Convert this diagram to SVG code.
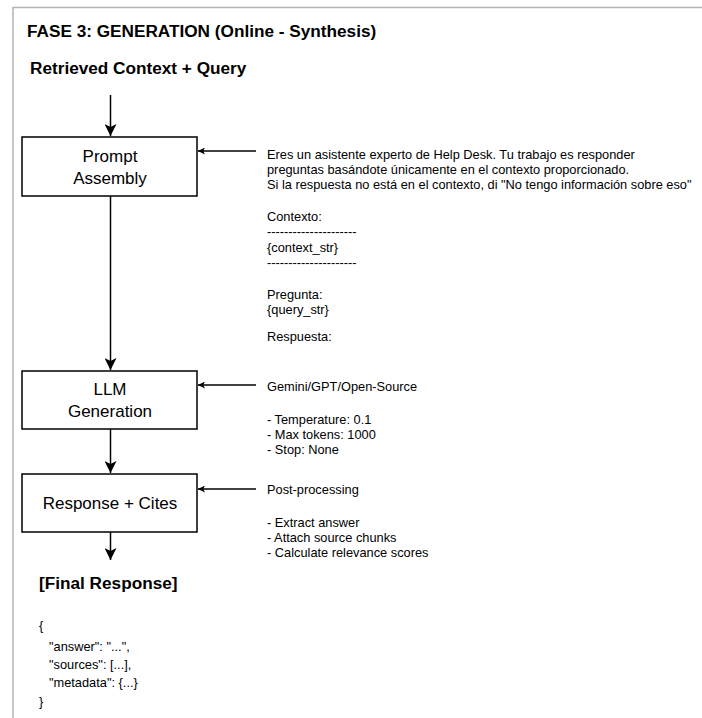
<svg xmlns="http://www.w3.org/2000/svg" width="702" height="718" viewBox="0 0 702 718">
<defs>
<marker id="big" viewBox="0 0 12 12" refX="12" refY="6" markerWidth="12" markerHeight="12" markerUnits="userSpaceOnUse" orient="auto">
<path d="M0,0 L12,6 L0,12 L3,6 Z" fill="#000"/>
</marker>
<marker id="small" viewBox="0 0 8 8" refX="8" refY="4" markerWidth="7" markerHeight="7" markerUnits="userSpaceOnUse" orient="auto">
<path d="M0,0 L8,4 L0,8 L2,4 Z" fill="#000"/>
</marker>
</defs>
<style>
text{font-family:"Liberation Sans",Arial,sans-serif;fill:#000}
.h{font-size:17.2px;font-weight:bold}
.n{font-size:17px;text-anchor:middle}
.t{font-size:12.8px}
.box{fill:#fff;stroke:#000;stroke-width:1.5}
.c{stroke:#000;stroke-width:1.5;fill:none}
</style>
<rect width="702" height="718" fill="#fff"/>
<path d="M13,718 V7.5 H702" fill="none" stroke="#b3b3b3" stroke-width="1.5"/>
<text class="h" x="27" y="37">FASE 3: GENERATION (Online - Synthesis)</text>
<text class="h" x="30" y="74">Retrieved Context + Query</text>

<g id="connectors">
<line class="c" x1="110.5" y1="95" x2="110.5" y2="136" marker-end="url(#big)"/>
<line class="c" x1="110.5" y1="196" x2="110.5" y2="370" marker-end="url(#big)"/>
<line class="c" x1="110.5" y1="429" x2="110.5" y2="473" marker-end="url(#big)"/>
<line class="c" x1="110.5" y1="532" x2="110.5" y2="560" marker-end="url(#big)"/>
<line class="c" x1="256" y1="151" x2="198" y2="151" marker-end="url(#small)"/>
<line class="c" x1="256" y1="385" x2="198" y2="385" marker-end="url(#small)"/>
<line class="c" x1="256" y1="489" x2="198" y2="489" marker-end="url(#small)"/>
</g>

<g id="prompt">
<rect class="box" x="22" y="137" width="175" height="59"/>
<text class="n" x="110" y="162">Prompt</text>
<text class="n" x="110" y="184">Assembly</text>
</g>
<g id="llm">
<rect class="box" x="22" y="371" width="175" height="58"/>
<text class="n" x="110" y="395">LLM</text>
<text class="n" x="110" y="417">Generation</text>
</g>
<g id="response">
<rect class="box" x="22" y="474" width="175" height="58"/>
<text class="n" x="110" y="509">Response + Cites</text>
</g>

<g id="prompt-note">
<text class="t" x="267" y="159">Eres un asistente experto de Help Desk. Tu trabajo es responder</text>
<text class="t" x="267" y="174">preguntas basándote únicamente en el contexto proporcionado.</text>
<text class="t" x="267" y="189">Si la respuesta no está en el contexto, di "No tengo información sobre eso"</text>
<text class="t" x="267" y="221">Contexto:</text>
<text class="t" x="267" y="236">---------------------</text>
<text class="t" x="267" y="252">{context_str}</text>
<text class="t" x="267" y="267">---------------------</text>
<text class="t" x="267" y="299">Pregunta:</text>
<text class="t" x="267" y="314">{query_str}</text>
<text class="t" x="267" y="341">Respuesta:</text>
</g>
<g id="llm-note">
<text class="t" x="267" y="391">Gemini/GPT/Open-Source</text>
<text class="t" x="267" y="424">- Temperature: 0.1</text>
<text class="t" x="267" y="439">- Max tokens: 1000</text>
<text class="t" x="267" y="454">- Stop: None</text>
</g>
<g id="response-note">
<text class="t" x="267" y="494">Post-processing</text>
<text class="t" x="267" y="527">- Extract answer</text>
<text class="t" x="267" y="542">- Attach source chunks</text>
<text class="t" x="267" y="557">- Calculate relevance scores</text>
</g>
<g id="final">
<text class="h" x="39" y="589">[Final Response]</text>
<text class="t" x="39" y="630">{</text>
<text class="t" x="49" y="651">"answer": "...",</text>
<text class="t" x="49" y="669">"sources": [...],</text>
<text class="t" x="49" y="687">"metadata": {...}</text>
<text class="t" x="39" y="706">}</text>
</g>
</svg>
